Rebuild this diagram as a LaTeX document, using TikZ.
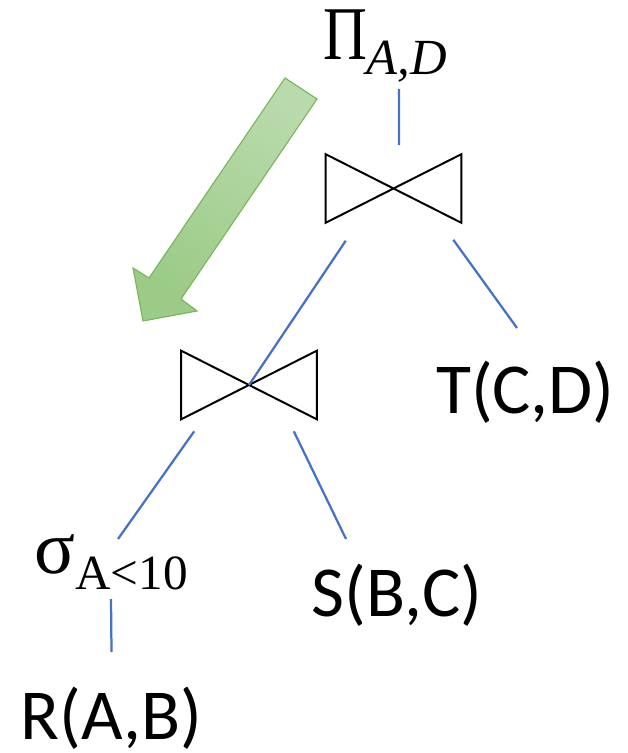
\documentclass[tikz,border=0pt]{standalone}
\usepackage{fontspec}
\setmainfont{Carlito}
\newfontfamily\timesfont{Liberation Serif}
\usetikzlibrary{calc}
\definecolor{edgeblue}{HTML}{4472C4}
\definecolor{arrowgreen}{HTML}{7AB55C}
\definecolor{arrowlight}{HTML}{B9DAAC}
\definecolor{arrowdark}{HTML}{9BCB87}

\begin{document}
\begin{tikzpicture}[
    x=0.025cm, y=-0.025cm,
    joinbox/.style={rectangle, inner sep=0pt, minimum width=3.375cm, minimum height=1.7cm},
    joinline/.style={line width=1.4pt, line join=miter},
    relation/.style={inner sep=0pt, anchor=base, font=\fontsize{51}{51}\selectfont},
    opnode/.style={inner sep=0pt, anchor=base, font=\timesfont},
    edge/.style={edgeblue, line width=1.6pt},
    pushdown/.style={draw=arrowgreen, line width=0.8pt, top color=arrowlight,
                     bottom color=arrowdark, shading angle=-34},
]
  \useasboundingbox (0,0) rectangle (628,753);

  % projection on top
  \node[opnode] (proj) at (385,60)
    {\fontsize{54}{54}\selectfont\scalebox{0.8}[1]{Π}\raisebox{-10pt}{\fontsize{36}{36}\selectfont\itshape A,D}};

  % joins
  \node[joinbox] (j1) at (393.5,188.5) {};
  \node[joinbox] (j2) at (249,385) {};
  \draw[joinline] (j1.north west) -- (j1.south east) -- (j1.north east) -- (j1.south west) -- cycle;
  \draw[joinline] (j2.north west) -- (j2.south east) -- (j2.north east) -- (j2.south west) -- cycle;

  % selection and relations
  \node[opnode] (sel) at (111,573)
    {\fontsize{54}{54}\selectfont σ\raisebox{-12pt}{\fontsize{35}{35}\selectfont A<10}};
  \node[relation] (tcd) at (525.5,413) {T(C,D)};
  \node[relation] (sbc) at (397,616) {S(B,C)};
  \node[relation] (rab) at (111.5,739) {R(A,B)};

  % tree edges
  \draw[edge] ([shift={(14,29)}]proj.base) -- ([shift={(5.5,-9)}]j1.north);
  \draw[edge] ([shift={(20,18)}]j1.south west) -- (j2.center);
  \draw[edge] ([shift={(-8,17)}]j1.south east) -- ([shift={(-8.5,-85)}]tcd.base);
  \draw[edge] ([shift={(13,12)}]j2.south west) -- ([shift={(7,-34)}]sel.base);
  \draw[edge] ([shift={(-23,12)}]j2.south east) -- ([shift={(-51,-77)}]sbc.base);
  \draw[edge] ([shift={(0,26)}]sel.base) -- ([shift={(0,-87)}]rab.base);

  % push the projection down
  \path[pushdown] (285,78) -- (317,99) -- (181,299) -- (197,311) -- (143,321)
    -- (133,268) -- (149,278) -- cycle;
\end{tikzpicture}
\end{document}
